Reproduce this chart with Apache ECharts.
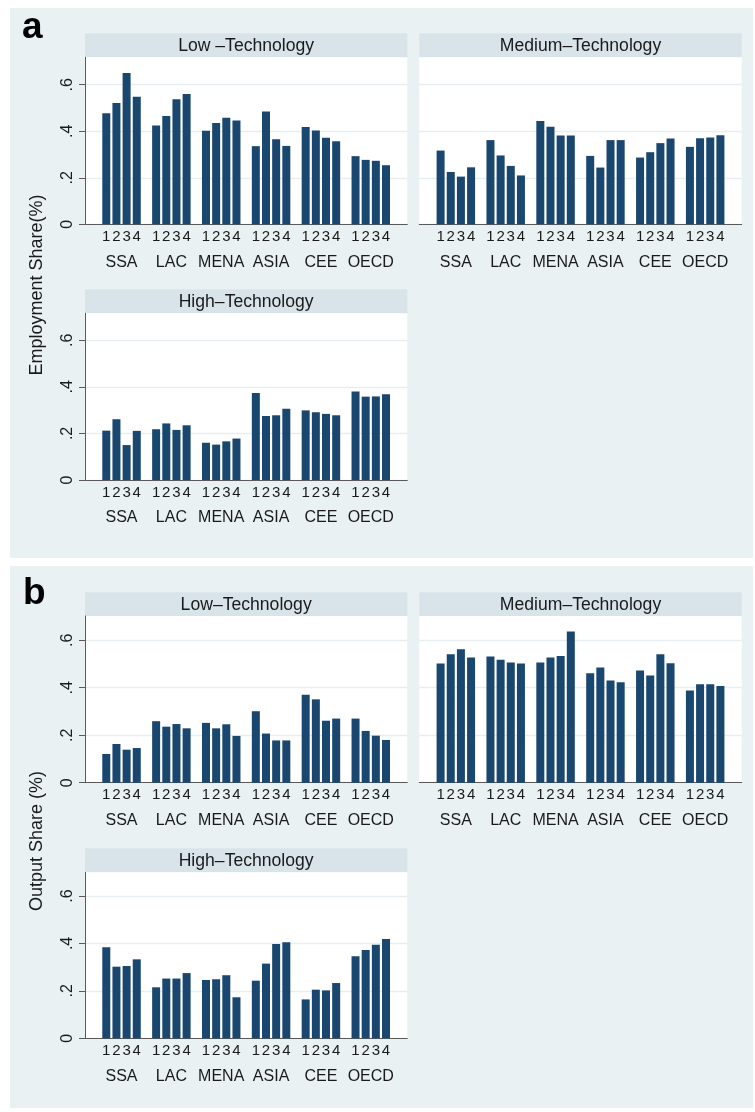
<!DOCTYPE html>
<html>
<head>
<meta charset="utf-8">
<script src="https://cdn.jsdelivr.net/npm/echarts@6/dist/echarts.min.js"></script>
<style>
html,body{margin:0;padding:0;background:#fff;}
#chart{width:755px;height:1112px;}
</style>
</head>
<body>
<div id="chart"></div>
<script>
// ---------- DATA ----------
const regions = ['SSA', 'LAC', 'MENA', 'ASIA', 'CEE', 'OECD'];
const periods = ['1', '2', '3', '4'];
const yTickValues = [0, 0.2, 0.4, 0.6];
const yTickLabels = ['0', '.2', '.4', '.6'];

// Employment share (panel a): one row per region, 4 periods
const empLow = [
  [0.477, 0.521, 0.650, 0.548],
  [0.425, 0.466, 0.538, 0.560],
  [0.402, 0.435, 0.458, 0.446],
  [0.336, 0.485, 0.366, 0.337],
  [0.418, 0.403, 0.372, 0.357],
  [0.293, 0.277, 0.273, 0.254]
];
const empMedium = [
  [0.317, 0.225, 0.205, 0.245],
  [0.362, 0.296, 0.251, 0.210],
  [0.444, 0.419, 0.382, 0.382],
  [0.294, 0.244, 0.362, 0.362],
  [0.287, 0.310, 0.349, 0.369],
  [0.333, 0.370, 0.373, 0.383]
];
const empHigh = [
  [0.212, 0.261, 0.150, 0.211],
  [0.218, 0.243, 0.215, 0.235],
  [0.160, 0.152, 0.166, 0.178],
  [0.374, 0.275, 0.278, 0.306],
  [0.299, 0.291, 0.284, 0.278],
  [0.380, 0.358, 0.359, 0.368]
];
// Output share (panel b)
const outLow = [
  [0.121, 0.163, 0.139, 0.146],
  [0.259, 0.236, 0.247, 0.229],
  [0.252, 0.229, 0.246, 0.197],
  [0.301, 0.207, 0.178, 0.178],
  [0.370, 0.351, 0.261, 0.270],
  [0.270, 0.218, 0.198, 0.180]
];
const outMedium = [
  [0.502, 0.541, 0.562, 0.527],
  [0.531, 0.518, 0.506, 0.502],
  [0.506, 0.527, 0.534, 0.637],
  [0.461, 0.485, 0.430, 0.423],
  [0.472, 0.451, 0.541, 0.503],
  [0.388, 0.415, 0.415, 0.407]
];
const outHigh = [
  [0.384, 0.302, 0.305, 0.333],
  [0.215, 0.252, 0.252, 0.275],
  [0.246, 0.249, 0.266, 0.173],
  [0.243, 0.315, 0.398, 0.405],
  [0.164, 0.205, 0.202, 0.233],
  [0.346, 0.372, 0.395, 0.419]
];

// ---------- LAYOUT / STYLE ----------
const FONT = "'Liberation Sans', Arial, Helvetica, sans-serif";
const TXT = '#1a1a1a';
const BAR = '#1a476f';
const PANEL_BG = '#e9f1f3';
const STRIP_BG = '#d8e4ea';
const GRID_LINE = '#e6eef1';
const AXIS = '#5a5a5a';

const cols = [{ l: 85, r: 407.3 }, { l: 419.3, r: 741.7 }];
const rows = {
  a1: { ht: 33.3, pt: 57.3, pb: 224.3, max: 0.718 },
  a2: { ht: 289.3, pt: 313.3, pb: 480, max: 0.716 },
  b1: { ht: 592.3, pt: 616, pb: 782.7, max: 0.702 },
  b2: { ht: 848.3, pt: 872.3, pb: 1038.3, max: 0.700 }
};
const INNER = 11.6;

const subplots = [
  { row: 'a1', col: 0, title: 'Low \u2013Technology', data: empLow },
  { row: 'a1', col: 1, title: 'Medium\u2013Technology', data: empMedium },
  { row: 'a2', col: 0, title: 'High\u2013Technology', data: empHigh },
  { row: 'b1', col: 0, title: 'Low\u2013Technology', data: outLow },
  { row: 'b1', col: 1, title: 'Medium\u2013Technology', data: outMedium },
  { row: 'b2', col: 0, title: 'High\u2013Technology', data: outHigh }
];

const grid = [], xAxis = [], yAxis = [], series = [], graphic = [];

// panel backgrounds
graphic.push({ type: 'rect', z: -100, silent: true, shape: { x: 10, y: 8, width: 743, height: 550 }, style: { fill: PANEL_BG } });
graphic.push({ type: 'rect', z: -100, silent: true, shape: { x: 10, y: 566, width: 743, height: 542 }, style: { fill: PANEL_BG } });
// panel letters
graphic.push({ type: 'text', z: 10, silent: true, x: 22, y: 27.5, style: { text: 'a', font: 'bold 37px ' + FONT, fill: '#000', align: 'left', verticalAlign: 'middle' } });
graphic.push({ type: 'text', z: 10, silent: true, x: 23, y: 594, style: { text: 'b', font: 'bold 37px ' + FONT, fill: '#000', align: 'left', verticalAlign: 'middle' } });
// y titles
graphic.push({ type: 'text', z: 10, silent: true, x: 37, y: 285, rotation: Math.PI / 2, style: { text: 'Employment Share(%)', font: '18px ' + FONT, fill: TXT, align: 'center', verticalAlign: 'middle' } });
graphic.push({ type: 'text', z: 10, silent: true, x: 37, y: 841, rotation: Math.PI / 2, style: { text: 'Output Share (%)', font: '18px ' + FONT, fill: TXT, align: 'center', verticalAlign: 'middle' } });

function yLabel(v) {
  let best = 0;
  for (let i = 0; i < yTickValues.length; i++) {
    if (Math.abs(yTickValues[i] - v) < Math.abs(yTickValues[best] - v)) best = i;
  }
  return Math.abs(yTickValues[best] - v) < 1e-6 ? yTickLabels[best] : '';
}

subplots.forEach((sp) => {
  const r = rows[sp.row], c = cols[sp.col];
  const W = c.r - c.l, H = r.pb - r.pt;
  // header strip
  graphic.push({ type: 'rect', z: -50, silent: true, shape: { x: c.l, y: r.ht, width: W, height: r.pt - r.ht }, style: { fill: STRIP_BG } });
  graphic.push({ type: 'text', z: 10, silent: true, x: (c.l + c.r) / 2, y: (r.ht + r.pt) / 2 + 0.5, style: { text: sp.title, font: '17.6px ' + FONT, fill: TXT, align: 'center', verticalAlign: 'middle' } });

  const leftCol = sp.col === 0;
  // background grid (plot region, y axis, gridlines, bottom axis line)
  const gBg = grid.length;
  grid.push({ left: c.l, top: r.pt, width: W, height: H, show: true, backgroundColor: '#ffffff', borderWidth: 0, containLabel: false });
  xAxis.push({ gridIndex: gBg, type: 'value', min: 0, max: 1, axisLine: { show: true, onZero: false, lineStyle: { color: AXIS, width: 1 } }, axisTick: { show: false }, axisLabel: { show: false }, splitLine: { show: false } });
  yAxis.push({
    gridIndex: gBg, type: 'value', min: 0, max: r.max, interval: 0.2,
    axisLine: { show: leftCol, lineStyle: { color: AXIS, width: 1 } },
    axisTick: { show: leftCol, length: 6, lineStyle: { color: AXIS }, customValues: yTickValues },
    axisLabel: { show: leftCol, rotate: 90, margin: 9, fontSize: 16, fontFamily: FONT, color: TXT, customValues: yTickValues, formatter: yLabel },
    splitLine: { show: true, lineStyle: { color: GRID_LINE, width: 1.3 } }
  });
  // bar grid
  const gBar = grid.length;
  grid.push({ left: c.l + INNER, top: r.pt, width: W - 2 * INNER, height: H, containLabel: false });
  xAxis.push({ gridIndex: gBar, type: 'category', data: regions, axisLine: { show: false }, axisTick: { show: false },
    axisLabel: { margin: 30, fontSize: 16, fontFamily: FONT, color: TXT, interval: 0 } });
  yAxis.push({ gridIndex: gBar, type: 'value', min: 0, max: r.max, show: false, splitLine: { show: false } });

  periods.forEach((p, k) => {
    series.push({
      type: 'bar', xAxisIndex: gBar, yAxisIndex: gBar,
      data: sp.data.map((row) => row[k]),
      barWidth: 8, barGap: '27%',
      itemStyle: { color: BAR },
      silent: true,
      label: { show: true, position: 'bottom', distance: 5, formatter: p, fontSize: 15, fontFamily: FONT, color: TXT }
    });
  });
});

const chart = echarts.init(document.getElementById('chart'), null, { renderer: 'canvas' });
chart.setOption({ animation: false, backgroundColor: '#ffffff', grid, xAxis, yAxis, series, graphic });
</script>
</body>
</html>
